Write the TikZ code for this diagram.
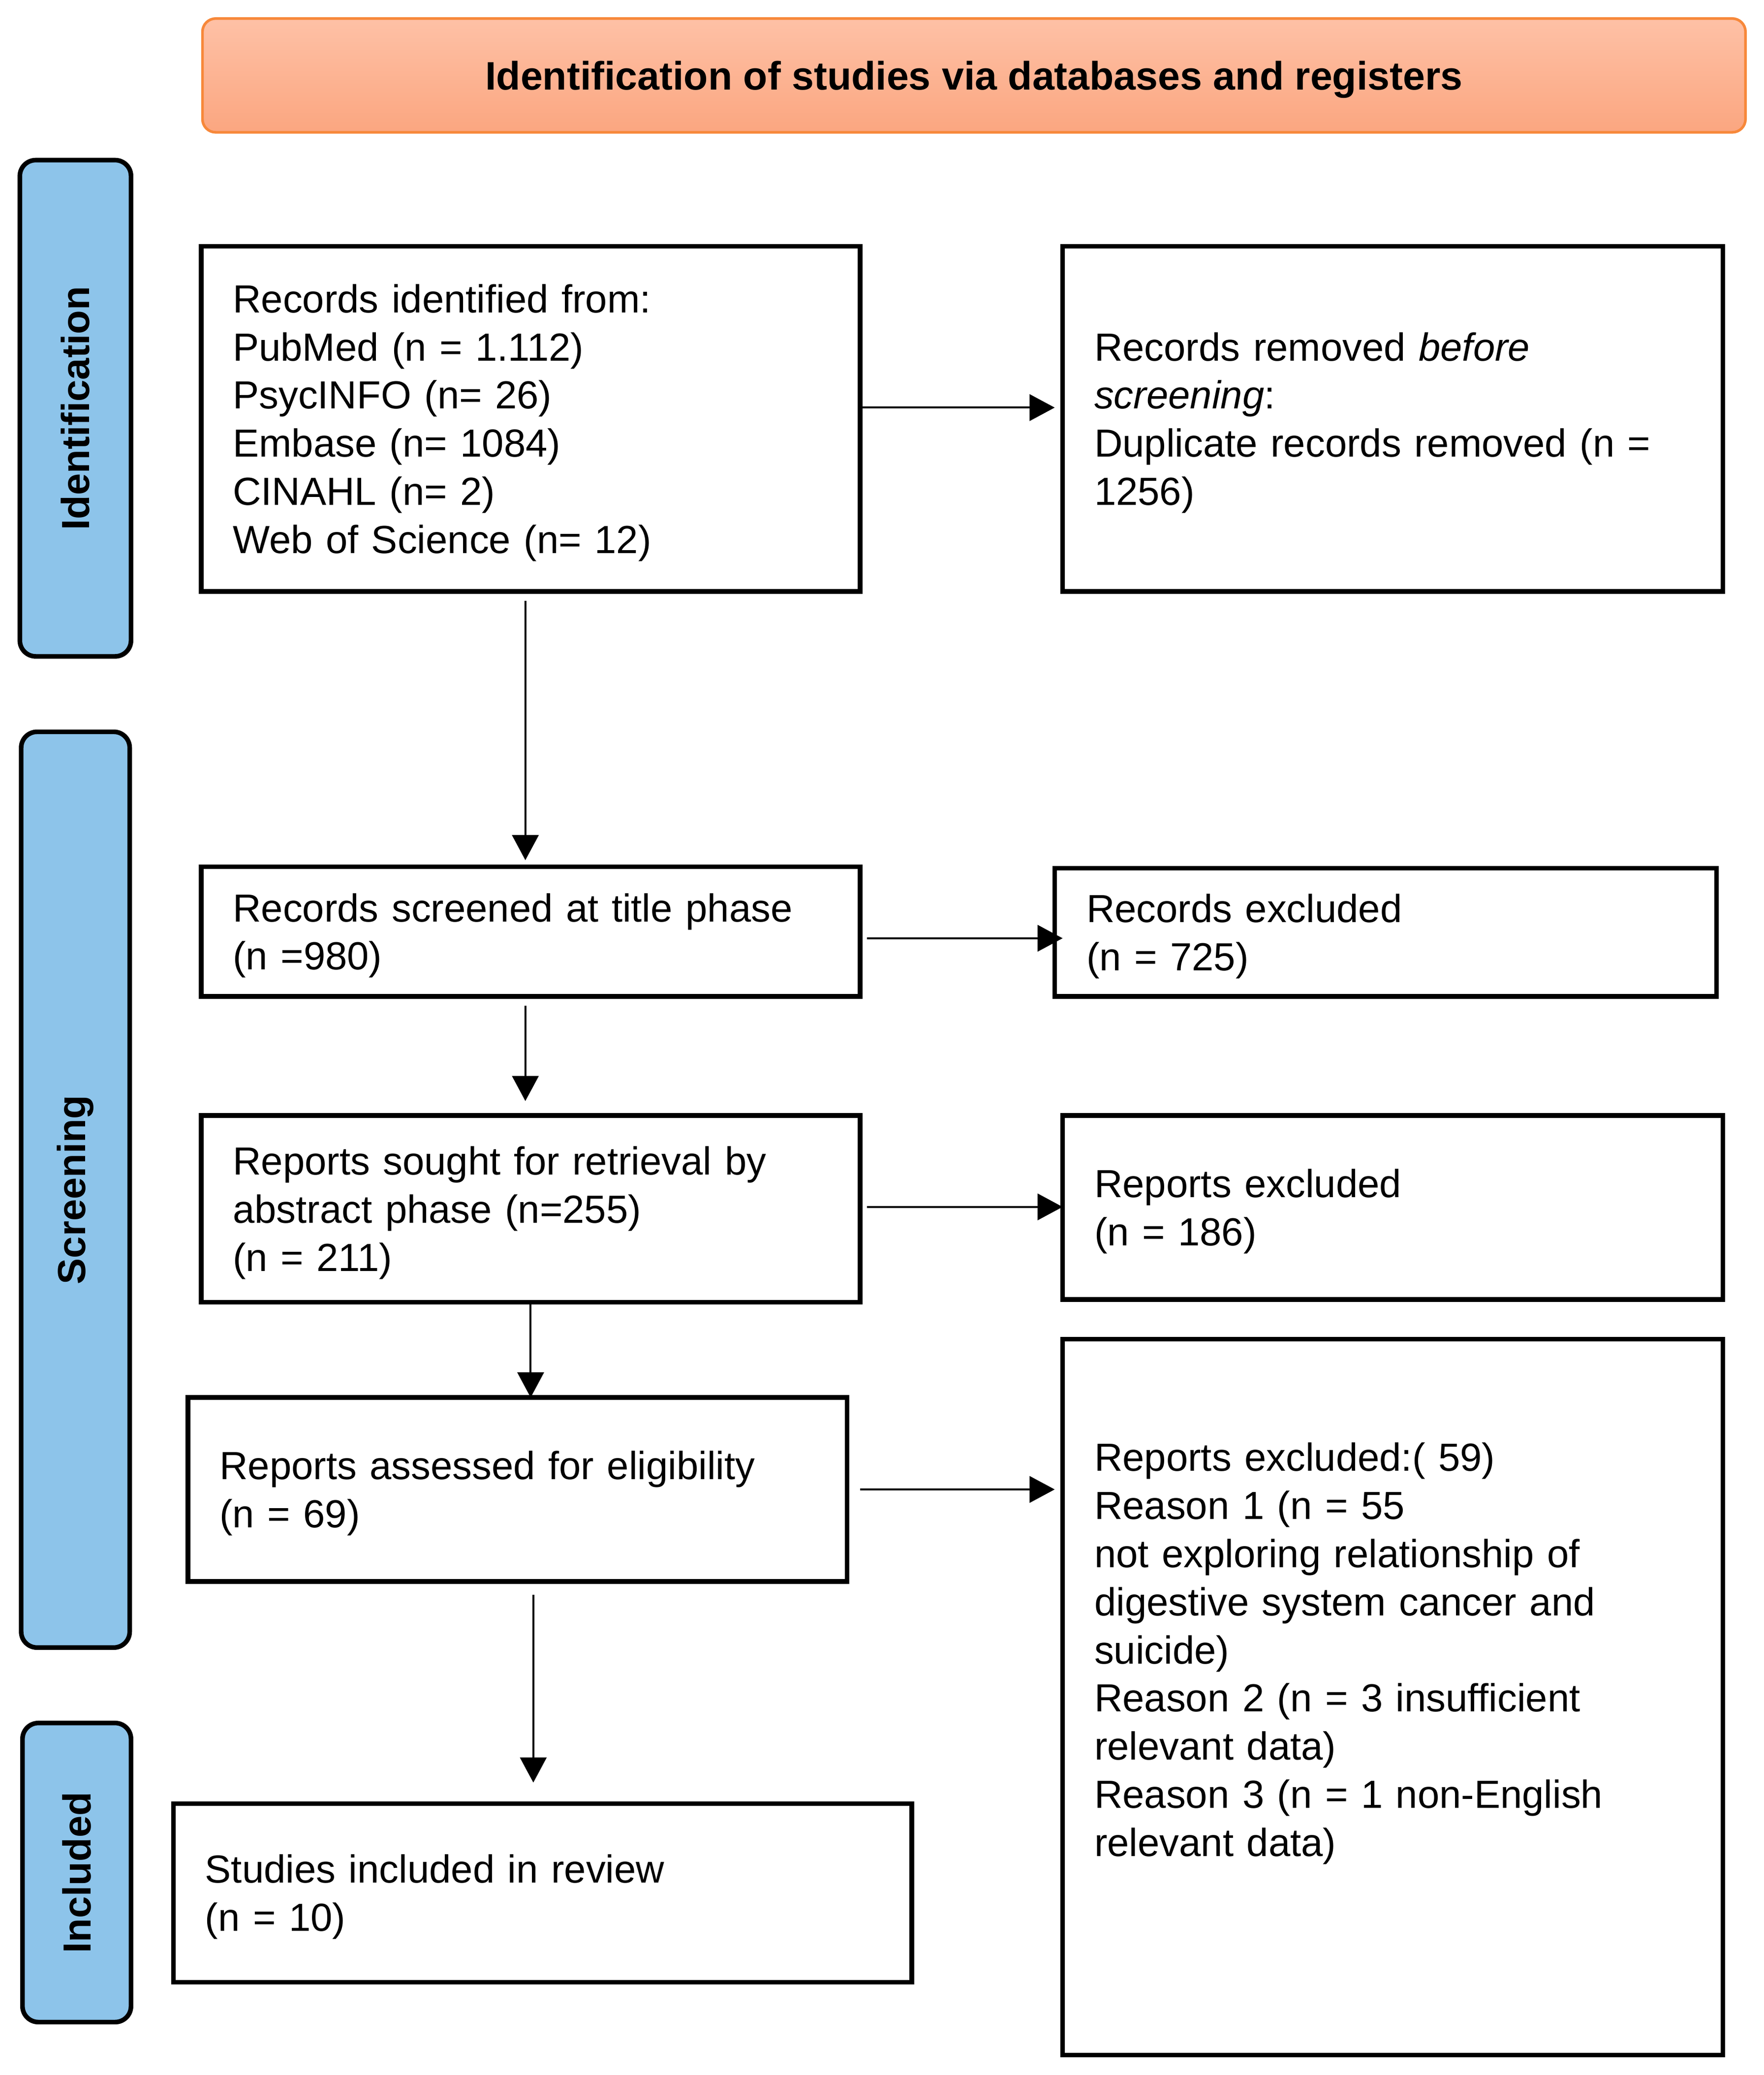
\documentclass[tikz,border=0pt]{standalone}
\usepackage{fontspec}
\setmainfont{Liberation Sans}
\usetikzlibrary{arrows.meta,calc}
\definecolor{hdrtop}{HTML}{FEC1A6}
\definecolor{hdrbot}{HTML}{FBA680}
\definecolor{hdrline}{HTML}{F7883A}
\definecolor{sideblue}{HTML}{8DC4EA}
\begin{document}
\begin{tikzpicture}[x=0.5pt,y=-0.5pt,
 box/.style={draw=black, line width=1.75pt, outer sep=0pt, inner sep=0pt},
 boxtext/.style={outer sep=0pt, inner xsep=12pt, inner ysep=0pt, align=left, font=\fontsize{14.8pt}{18.2pt}\selectfont},
 side/.style={draw=black, line width=1.75pt, fill=sideblue, rounded corners=6pt, rotate=90, outer sep=0pt, inner sep=0pt, font=\fontsize{14.8pt}{17pt}\selectfont\bfseries},
 arr/.style={line width=0.75pt, -{Triangle[length=9.5pt,width=10pt]}},
]
\useasboundingbox (0,0) rectangle (1333,1568);

% header
\node[draw=hdrline, line width=1pt, top color=hdrtop, bottom color=hdrbot, rounded corners=5pt, minimum width=583pt, minimum height=43pt, inner sep=0pt] (hdr) at (736,57) {};
\node[inner sep=0pt, font=\fontsize{15pt}{18pt}\selectfont\bfseries] (hdrt) at ([yshift=-1.5pt]hdr.center) {Identification of studies via databases and registers};

% side bars
\node[side, minimum width=187.5pt, minimum height=42pt] (sid) at (57,308.5) {Identification};
\node[side, minimum width=346pt, minimum height=41pt] (sscr) at (57,899) {Screening};
\node[side, minimum width=113pt, minimum height=41pt] (sinc) at (58,1415) {Included};

% boxes
\node[box, minimum width=249pt, minimum height=130.5pt] (b1) at (401,316.5) {};
\node[boxtext, text width=225pt] (t1) at ([yshift=-1.5pt]b1.center) {Records identified from:\\ PubMed (n = 1.112)\\ PsycINFO (n= 26)\\ Embase (n= 1084)\\ CINAHL (n= 2)\\ Web of Science (n= 12)};
\node[box, minimum width=249.5pt, minimum height=130.5pt] (b2) at (1052.5,316.5) {};
\node[boxtext, text width=225.5pt] (t2) at ([yshift=-1.5pt]b2.center) {Records removed \textit{before}\\ \textit{screening}:\\ Duplicate records removed (n =\\ 1256)};
\node[box, minimum width=249pt, minimum height=49pt] (b3) at (401,704) {};
\node[boxtext, text width=225pt] (t3) at ([yshift=-1.5pt]b3.center) {Records screened at title phase\\ (n =980)};
\node[box, minimum width=250pt, minimum height=48.5pt] (b4) at (1047,704.5) {};
\node[boxtext, text width=226pt] (t4) at ([yshift=-1.5pt]b4.center) {Records excluded\\ (n = 725)};
\node[box, minimum width=249pt, minimum height=70.5pt] (b5) at (401,913.5) {};
\node[boxtext, text width=225pt] (t5) at ([yshift=-1.5pt]b5.center) {Reports sought for retrieval by\\ abstract phase (n=255)\\ (n = 211)};
\node[box, minimum width=249.5pt, minimum height=69.5pt] (b6) at (1052.5,912.5) {};
\node[boxtext, text width=225.5pt] (t6) at ([yshift=-1.5pt]b6.center) {Reports excluded\\ (n = 186)};
\node[box, minimum width=249pt, minimum height=69.5pt] (b7) at (391,1125.5) {};
\node[boxtext, text width=225pt] (t7) at ([yshift=-1.5pt]b7.center) {Reports assessed for eligibility\\ (n = 69)};
\node[box, minimum width=249.5pt, minimum height=270.5pt] (b8) at (1052.5,1282.5) {};
\node[boxtext, text width=225.5pt] (t8) at ([yshift=16.5pt]b8.center) {Reports excluded:( 59)\\ Reason 1 (n = 55\\ not exploring relationship of\\ digestive system cancer and\\ suicide)\\ Reason 2 (n = 3 insufficient\\ relevant data)\\ Reason 3 (n = 1 non-English\\ relevant data)};
\node[box, minimum width=279pt, minimum height=67.5pt] (b9) at (410,1430.5) {};
\node[boxtext, text width=255pt] (t9) at ([yshift=-1.5pt]b9.center) {Studies included in review\\ (n = 10)};

% arrows
\draw[arr, shorten >=3pt] ([yshift=4.25pt]b1.east) -- ([yshift=4.25pt]b1.east -| b2.west);
\draw[arr, shorten <=3.5pt, shorten >=2.5pt] ([xshift=-2pt]b1.south) -- ([xshift=-2pt]b1.south |- b3.north);
\draw[arr, shorten <=2.5pt, shorten >=-3pt] ([yshift=-2.5pt]b3.east) -- ([yshift=-2.5pt]b3.east -| b4.west);
\draw[arr, shorten <=3.5pt, shorten >=5.5pt] ([xshift=-2pt]b3.south) -- ([xshift=-2pt]b3.south |- b5.north);
\draw[arr, shorten <=2.5pt] ([yshift=0.75pt]b5.east) -- ([yshift=0.75pt]b5.east -| b6.west);
\draw[arr] (b5.south) -- (b5.south |- b7.north);
\draw[arr, shorten <=5pt, shorten >=3pt] (b7.east) -- (b7.east -| b8.west);
\draw[arr, shorten <=5pt, shorten >=8pt] ([xshift=6pt]b7.south) -- ([xshift=6pt]b7.south |- b9.north);
\end{tikzpicture}
\end{document}
